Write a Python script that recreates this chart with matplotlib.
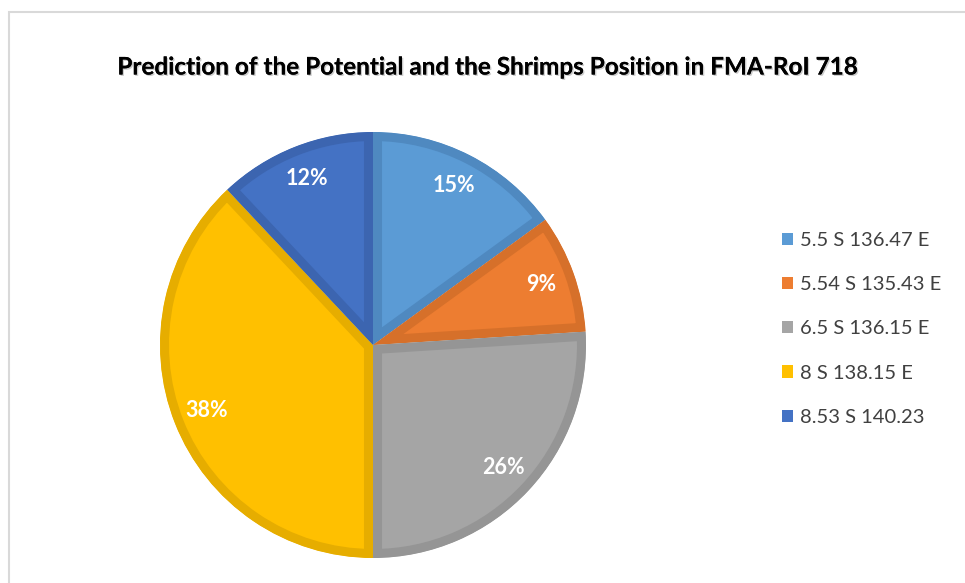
import matplotlib
matplotlib.use('Agg')
import matplotlib.pyplot as plt
import matplotlib.patches as mpatches
import matplotlib.patheffects as pe

plt.rcParams['font.family'] = ['Lato', 'DejaVu Sans']

# --- data
labels = ['5.5 S 136.47 E', '5.54 S 135.43 E', '6.5 S 136.15 E', '8 S 138.15 E', '8.53 S 140.23']
shares = [15, 9, 26, 38, 12]
fill_colors = ['#5B9BD5', '#ED7D31', '#A5A5A5', '#FFC000', '#4472C4']
edge_colors = ['#4F89C0', '#D6702A', '#959595', '#E6AD00', '#3C65B0']
title = 'Prediction of the Potential and the Shrimps Position in FMA-RoI 718'

W, H = 965, 583
fig = plt.figure(figsize=(W / 100, H / 100), dpi=100)

# light chart-area frame (only top and left edges visible)
frame = mpatches.Rectangle((9 / W, -0.1), 1.2, 1.1 - 12 / H, transform=fig.transFigure,
                           fill=False, edgecolor='#D9D9D9', lw=1.5)
fig.patches.append(frame)

# pie axes: centre (373, 345) px, radius 213 px
cx, cy, r = 373, 345, 213
ax = fig.add_axes([(cx - r) / W, (H - cy - r) / H, 2 * r / W, 2 * r / H])

wedges, texts, autotexts = ax.pie(shares, colors=fill_colors, startangle=90, counterclock=False,
                                  autopct='%1.0f%%', pctdistance=0.84, radius=1.0,
                                  wedgeprops=dict(linewidth=13))
ax.set_xlim(-1, 1)
ax.set_ylim(-1, 1)
ax.set_aspect('auto')
ax.axis('off')

for w, ec in zip(wedges, edge_colors):
    w.set_edgecolor(ec)
    # pie turns clipping off; clip each wedge to itself so only the inner half of the stroke shows
    w.set_clip_on(True)
    w.set_clip_path(w)

for t in autotexts:
    t.set_color('white')
    t.set_fontweight('bold')
    t.set_fontsize(15.5)

fig.text(487 / W, 1 - 67 / H, title, ha='center', va='center', fontsize=17.5, fontweight='bold',
         color='black',
         path_effects=[pe.withSimplePatchShadow(offset=(1, -1), shadow_rgbFace='#999999', alpha=0.5),
                       pe.Normal()])

handles = [mpatches.Patch(facecolor=c, edgecolor='none') for c in fill_colors]
fig.legend(handles, labels, loc='center left', bbox_to_anchor=(782 / W, 1 - 329 / H),
           frameon=False, fontsize=14.5, handlelength=0.55, handleheight=0.55,
           handletextpad=0.35, labelspacing=1.35, borderpad=0, borderaxespad=0,
           labelcolor='#404040')

fig.savefig('out.png', dpi=100)
